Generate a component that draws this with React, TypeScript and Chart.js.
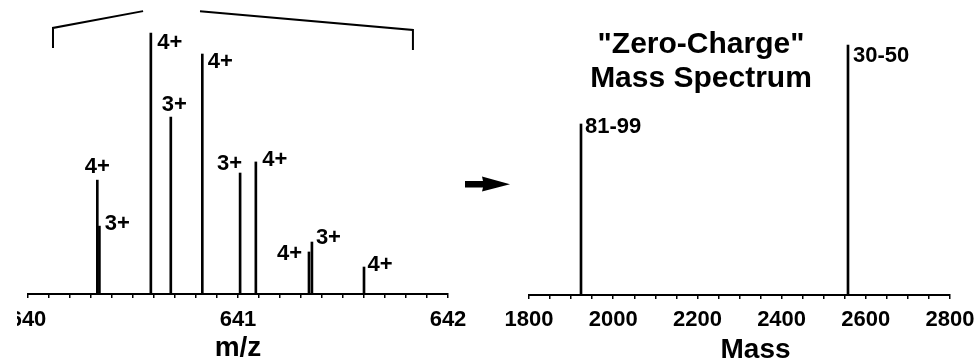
import React, { useEffect, useRef } from "react";
import { Chart, registerables } from "chart.js";

Chart.register(...registerables);

// ---------- Left panel: measured m/z spectrum ----------
const mz4 = [640.33, 640.585, 640.83, 641.085, 641.338, 641.6];
const int4 = [40.1, 91.9, 84.5, 46.5, 14.8, 9.5];
const mz3 = [640.34, 640.68, 641.01, 641.352];
const int3 = [23.9, 62.3, 42.6, 18.3];
const charge4 = "4+";
const charge3 = "3+";
const bracketMz = [640.119, 640.119, 640.548, 640.68, 640.819, 641.833, 641.833];
const bracketInt = [86.6, 93.7, 99.6, null, 99.6, 93.0, 85.9];
const mzMin = 640;
const mzMax = 642;
const mzMinorStep = 0.1;
const mzLabelStep = 1;
const mzTitle = "m/z";

// ---------- Right panel: "zero-charge" spectrum ----------
const masses = [1923.5, 2557.7];
const massInt = [60.0, 87.7];
const massLabels = ["81-99", "30-50"];
const massMin = 1800;
const massMax = 2800;
const massMinorStep = 50;
const massLabelStep = 200;
const massTitle = "Mass";
const panelTitle = ['"Zero-Charge"', "Mass Spectrum"];

// ---------- styling / placement (not data) ----------
const FONT = "'Liberation Sans', Arial, Helvetica, sans-serif";
const INK = "#000";
const off4 = [[0, -13], [19, 9.5], [18, 7.5], [19, -2], [-19.5, 1.5], [16, -2.5]];
const off3 = [[18, -2], [3.5, -12], [-10.5, -9], [16.5, -4.5]];
const offMass = [[4, 2.5], [5, 11]];

function tickList(min: number, max: number, step: number) {
  const out: { value: number }[] = [];
  const n = Math.round((max - min) / step);
  for (let i = 0; i <= n; i++) out.push({ value: +(min + i * step).toFixed(6) });
  return out;
}

function xScale(
  min: number,
  max: number,
  step: number,
  labelStep: number,
  title: string,
  showTitle: boolean,
  height: number,
  tickPad: number
) {
  return {
    type: "linear",
    min,
    max,
    offset: false,
    afterBuildTicks: (s: any) => {
      s.ticks = tickList(min, max, step);
    },
    afterFit: (s: any) => {
      s.paddingLeft = 0;
      s.paddingRight = 0;
      s.height = height;
    },
    ticks: {
      autoSkip: false,
      maxRotation: 0,
      minRotation: 0,
      padding: tickPad,
      color: INK,
      font: { family: FONT, size: 22, weight: "bold" },
      callback: (v: number) => {
        const r = Math.round(v / labelStep) * labelStep;
        return Math.abs(v - r) < 1e-6 ? String(r) : "";
      },
    },
    grid: {
      display: true,
      drawOnChartArea: false,
      drawTicks: true,
      tickLength: 4,
      color: INK,
      lineWidth: 1.5,
      offset: false,
    },
    border: { display: true, color: INK, width: 2 },
    title: {
      display: showTitle,
      text: title,
      color: INK,
      font: { family: FONT, size: 28, weight: "bold", lineHeight: 1 },
      padding: { top: 0, bottom: 1 },
    },
  };
}

type LabelItem = { text: string; x: number; y: number; dx: number; dy: number; align: CanvasTextAlign };

function labelPlugin(items: LabelItem[], extra?: (chart: any) => void) {
  return {
    id: "peakLabels",
    afterDatasetsDraw(chart: any) {
      const { ctx } = chart;
      const xs = chart.scales.x;
      const ys = chart.scales.y;
      ctx.save();
      ctx.fillStyle = INK;
      ctx.font = `bold 22px ${FONT}`;
      ctx.textBaseline = "middle";
      for (const it of items) {
        ctx.textAlign = it.align;
        ctx.fillText(it.text, xs.getPixelForValue(it.x) + it.dx, ys.getPixelForValue(it.y) + it.dy);
      }
      ctx.restore();
      if (extra) extra(chart);
    },
  };
}

function leftConfig(): any {
  const items: LabelItem[] = [
    ...mz4.map((x, i) => ({ text: charge4, x, y: int4[i], dx: off4[i][0], dy: off4[i][1], align: "center" as CanvasTextAlign })),
    ...mz3.map((x, i) => ({ text: charge3, x, y: int3[i], dx: off3[i][0], dy: off3[i][1], align: "center" as CanvasTextAlign })),
  ];
  return {
    type: "bar",
    data: {
      datasets: [
        {
          label: charge4,
          data: mz4.map((x, i) => ({ x, y: int4[i] })),
          backgroundColor: INK,
          borderWidth: 0,
          barThickness: 2,
          grouped: false,
        },
        {
          label: charge3,
          data: mz3.map((x, i) => ({ x, y: int3[i] })),
          backgroundColor: INK,
          borderWidth: 0,
          barThickness: 2,
          grouped: false,
        },
        {
          type: "line",
          label: "bracket",
          data: bracketMz.map((x, i) => ({ x, y: bracketInt[i] })),
          borderColor: INK,
          borderWidth: 2,
          pointRadius: 0,
          spanGaps: false,
          tension: 0,
          fill: false,
        },
      ],
    },
    options: {
      responsive: false,
      animation: false,
      layout: { padding: { left: 11, right: 32, top: 10, bottom: 0 } },
      plugins: { legend: { display: false }, tooltip: { enabled: false }, title: { display: false } },
      scales: {
        x: xScale(mzMin, mzMax, mzMinorStep, mzLabelStep, mzTitle, true, 69, 9),
        y: { display: false, min: 0, max: 100 },
      },
    },
    plugins: [labelPlugin(items)],
  };
}

function drawRightExtras(chart: any) {
  const { ctx } = chart;
  const xs = chart.scales.x;
  ctx.save();
  ctx.fillStyle = INK;
  ctx.font = `bold 30px ${FONT}`;
  ctx.textAlign = "center";
  ctx.textBaseline = "alphabetic";
  ctx.fillText(panelTitle[0], 246, 53);
  ctx.fillText(panelTitle[1], 246, 87);
  // axis title (set slightly right of the axis centre, as in the source figure)
  ctx.font = `bold 28px ${FONT}`;
  ctx.fillText(massTitle, (xs.left + xs.right) / 2 + 16, 358);
  // arrow between panels
  ctx.beginPath();
  ctx.moveTo(10, 181);
  ctx.lineTo(28, 181);
  ctx.lineTo(27, 176.5);
  ctx.lineTo(55, 184.3);
  ctx.lineTo(27, 191.5);
  ctx.lineTo(28, 187.5);
  ctx.lineTo(10, 187.5);
  ctx.closePath();
  ctx.fill();
  ctx.restore();
}

function rightConfig(): any {
  const items: LabelItem[] = masses.map((x, i) => ({
    text: massLabels[i],
    x,
    y: massInt[i],
    dx: offMass[i][0],
    dy: offMass[i][1],
    align: "left" as CanvasTextAlign,
  }));
  return {
    type: "bar",
    data: {
      datasets: [
        {
          label: "mass",
          data: masses.map((x, i) => ({ x, y: massInt[i] })),
          backgroundColor: INK,
          borderWidth: 0,
          barThickness: 2,
          grouped: false,
        },
      ],
    },
    options: {
      responsive: false,
      animation: false,
      layout: { padding: { left: 74, right: 30, top: 10, bottom: 0 } },
      plugins: { legend: { display: false }, tooltip: { enabled: false }, title: { display: false } },
      scales: {
        x: xScale(massMin, massMax, massMinorStep, massLabelStep, massTitle, false, 68, 8),
        y: { display: false, min: 0, max: 100 },
      },
    },
    plugins: [labelPlugin(items, drawRightExtras)],
  };
}

function ChartCanvas({ make, left, width }: { make: () => any; left: number; width: number }) {
  const ref = useRef<HTMLCanvasElement | null>(null);
  useEffect(() => {
    if (!ref.current) return;
    const chart = new Chart(ref.current, make());
    return () => chart.destroy();
  }, []);
  return (
    <canvas
      ref={ref}
      width={width}
      height={363}
      style={{ position: "absolute", left, top: 0, width, height: 363 }}
    />
  );
}

export default function App() {
  useEffect(() => {
    document.body.style.margin = "0";
  }, []);
  return (
    <div style={{ position: "absolute", left: 0, top: 0, width: 980, height: 363, background: "#fff", overflow: "hidden" }}>
      <ChartCanvas make={leftConfig} left={17} width={463} />
      <ChartCanvas make={rightConfig} left={455} width={525} />
    </div>
  );
}
